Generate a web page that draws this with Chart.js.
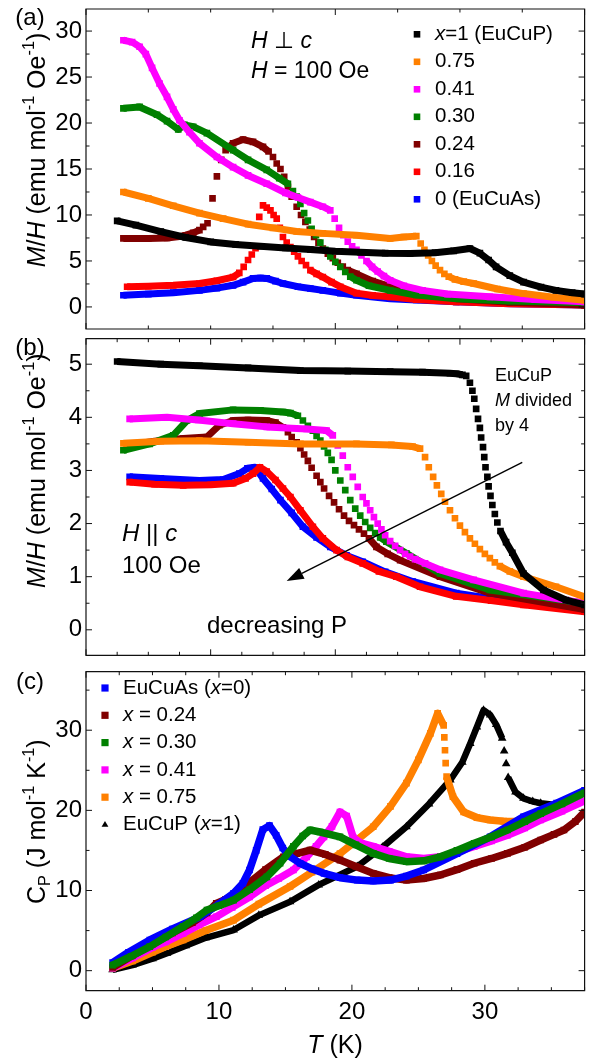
<!DOCTYPE html>
<html lang="en">
<head>
<meta charset="UTF-8">
<title>EuCu(As,P) M/H and Cp</title>
<script src="https://cdn.jsdelivr.net/npm/chart.js@4.4.1/dist/chart.umd.min.js"></script>
<style>
  body { margin: 0; background: #fff; }
  #wrap { position: relative; width: 590px; height: 1062px; }
  #wrap canvas { position: absolute; left: 0; }
</style>
</head>
<body>
<div id="wrap">
  <canvas id="chartA" width="590" height="334" style="top:0px"></canvas>
  <canvas id="chartB" width="590" height="326" style="top:334px"></canvas>
  <canvas id="chartC" width="590" height="402" style="top:660px"></canvas>
</div>
<script>
// ---------- panel (a): M/H, H perp c ----------
var a_T_x100 = [2.5,4,6,8,10,12,14,16,18,20,22,24,26,28,29.5,30.8,31.6,32.3,32.9,34,35.1,36.5,37.7,39,40];
var a_M_x100 = [9.36,8.9,8.2,7.55,7.07,6.8,6.6,6.42,6.25,6.05,5.95,5.85,5.82,5.9,6.1,6.35,5.85,5.1,4.35,3.4,2.7,2.15,1.8,1.55,1.4];
var a_T_x075 = [3.0,5,7,9.1,11,13,15,16.9,19,21.7,24.4,25.5,26.5,26.85,27.15,27.45,27.75,28.05,28.4,28.75,29.1,29.6,30.3,31.1,33,35.1,37.5,40];
var a_M_x075 = [12.5,11.8,11.0,10.2,9.6,9.0,8.6,8.2,8.0,7.8,7.45,7.6,7.7,6.9,6.2,5.6,5.0,4.5,4.0,3.6,3.3,3.0,2.75,2.55,1.95,1.45,1.05,0.73];
var a_T_x041 = [3.0,3.7,4.3,4.8,5.3,5.9,6.5,7.0,7.5,8.3,9.1,10.5,11.8,13,14.5,16,17,18,19.0,19.6,19.95,20.3,20.65,21.0,21.35,21.7,22.1,22.5,22.95,23.4,23.9,24.4,25.5,27.0,29,32.4,36,40];
var a_M_x041 = [29.0,28.8,28.3,27.5,26.0,24.3,22.85,21.5,20.3,19.0,17.8,16.3,15.2,14.3,13.4,12.4,11.9,11.4,10.9,10.5,9.6,8.6,7.8,7.1,6.6,6.2,5.6,5.0,4.35,3.85,3.35,2.9,2.3,1.8,1.4,1.1,0.8,0.55];
var a_T_x030 = [3.0,4.3,5.7,6.5,7.4,7.9,8.6,9.7,11.8,13.0,14.5,15.5,16.2,16.6,16.9,17.2,17.5,17.8,18.1,18.45,18.8,19.2,19.6,20.0,20.4,20.8,21.2,21.7,22.7,24.4,26.5,29.7,34,40];
var a_M_x030 = [21.6,21.75,20.9,20.2,19.3,19.8,19.6,18.9,17.05,16.0,14.9,14.0,13.4,12.6,12.0,11.2,10.2,9.4,8.5,7.8,7.0,6.2,5.5,4.9,4.35,3.8,3.3,2.9,2.3,1.8,1.3,0.9,0.65,0.45];
var a_T_x024 = [3.0,5,6.5,7.5,8.0,8.6,9.1,9.4,9.75,10.15,10.5,10.85,11.2,11.8,12.6,13.4,14.2,14.65,15.0,15.3,15.6,15.9,16.2,16.5,16.9,17.25,17.6,17.95,18.3,18.65,19.0,19.4,19.8,20.2,20.6,21.0,21.7,23,24.4,26.5,29.7,34,40];
var a_M_x024 = [7.45,7.45,7.5,7.65,7.8,8.05,8.35,8.7,9.1,11.8,14.2,16.0,17.05,17.8,18.2,17.95,17.4,16.9,16.3,15.6,15.0,14.15,13.05,12.0,10.9,10.0,9.25,8.4,7.6,7.0,6.35,5.8,5.3,4.8,4.4,4.0,3.6,2.8,2.2,1.6,0.9,0.5,0.2];
var a_T_x016 = [3.3,5,7,9.1,10.5,11.8,12.3,12.65,13.0,13.3,13.6,13.9,14.2,14.5,14.8,15.05,15.3,15.55,15.8,16.1,16.4,16.7,17.0,17.3,17.65,18.0,18.5,19.0,19.7,20.4,21.7,23,24.4,26.5,29.7,34,40];
var a_M_x016 = [2.2,2.25,2.35,2.55,2.85,3.25,3.7,4.35,5.1,5.7,6.4,9.8,11.05,10.8,10.5,10.0,9.6,8.6,7.6,7.0,6.5,6.0,5.5,5.0,4.55,4.0,3.6,3.25,2.7,2.2,1.5,1.25,1.1,0.8,0.55,0.35,0.2];
var a_T_x000 = [3.0,5,7,9.1,10.5,11.8,12.6,13.4,14.0,14.5,15.2,15.8,17.0,18,19.0,20.4,21.7,24.4,26.5,29.7,34,40];
var a_M_x000 = [1.27,1.4,1.55,1.8,2.05,2.35,2.7,3.1,3.15,3.1,2.8,2.55,2.2,2.0,1.8,1.5,1.27,0.9,0.75,0.55,0.35,0.2];

// ---------- panel (b): M/H, H || c ----------
var b_T_x100 = [2.5,6,9.1,13,17.2,21,24.4,27,29.2,29.7,30.2,30.5,30.8,31.0,31.15,31.3,31.45,31.6,31.7,31.85,31.95,32.05,32.2,32.3,32.45,32.6,32.8,33.0,33.25,33.7,34.2,35.1,36.7,38.5,40];
var b_M_x100 = [5.05,5.0,4.97,4.93,4.88,4.87,4.86,4.85,4.83,4.82,4.8,4.78,4.65,4.5,4.35,4.16,3.97,3.8,3.62,3.44,3.25,3.06,2.88,2.7,2.52,2.35,2.18,2.02,1.86,1.65,1.45,1.06,0.75,0.56,0.47];
var b_T_x075 = [3.0,6,9.1,13,17.2,21.7,24.5,26.2,26.8,27.2,27.5,27.85,28.15,28.5,28.8,29.2,29.6,30.0,30.4,30.8,31.2,31.6,32.0,32.4,32.8,33.2,34,35.1,37.7,40];
var b_M_x075 = [3.51,3.55,3.56,3.53,3.5,3.5,3.48,3.45,3.41,3.25,3.06,2.88,2.72,2.56,2.41,2.25,2.1,1.96,1.84,1.72,1.62,1.52,1.43,1.35,1.27,1.2,1.1,1.0,0.81,0.62];
var b_T_x041 = [3.5,6.5,9,11.8,14.5,17.7,19.3,19.8,20.2,20.6,21.0,21.4,21.8,22.2,22.5,22.8,23.1,23.4,23.7,24.0,24.4,24.8,25.2,25.6,26.0,26.4,27.2,28.4,31.1,35.1,40];
var b_M_x041 = [3.97,4.0,3.95,3.88,3.82,3.78,3.75,3.66,3.47,3.28,3.06,2.88,2.69,2.5,2.38,2.25,2.12,2.0,1.89,1.78,1.67,1.58,1.5,1.43,1.38,1.33,1.25,1.13,0.94,0.69,0.5];
var b_T_x030 = [3.0,5.1,7.0,8.1,9.1,11.8,14,15.8,16.4,17.0,17.4,17.8,18.2,18.5,18.8,19.1,19.4,19.7,20.0,20.4,20.8,21.2,21.6,22.0,22.4,22.8,23.2,23.6,24.1,25.7,28.4,32.4,40];
var b_M_x030 = [3.38,3.5,3.66,3.94,4.07,4.14,4.13,4.1,4.08,4.03,3.94,3.84,3.75,3.65,3.56,3.45,3.33,3.2,3.0,2.81,2.63,2.44,2.28,2.15,2.03,1.92,1.82,1.74,1.66,1.44,1.06,0.75,0.5];
var b_T_x024 = [3.3,5.5,7.8,9.7,10.7,11.8,13,14.5,15.2,15.8,16.2,16.5,16.9,17.2,17.5,17.8,18.1,18.5,18.8,19.1,19.5,19.9,20.3,20.7,21.1,21.5,21.9,22.3,22.7,23.3,24.2,25.2,28.4,32.4,40];
var b_M_x024 = [3.47,3.55,3.6,3.63,3.85,3.94,3.95,3.94,3.9,3.81,3.72,3.63,3.53,3.42,3.3,3.18,3.05,2.9,2.78,2.66,2.52,2.4,2.27,2.15,2.05,1.97,1.89,1.81,1.72,1.56,1.43,1.31,1.0,0.69,0.38];
var b_T_x016 = [3.5,5.5,7.8,10,11.8,12.8,13.4,13.95,14.5,15.2,15.8,16.4,17.2,18.2,19.0,20.1,21.0,22.2,23.5,24.9,26.8,29.7,32.5,35.1,40];
var b_M_x016 = [2.78,2.74,2.72,2.73,2.76,2.85,2.94,3.06,2.98,2.82,2.66,2.5,2.25,1.94,1.72,1.5,1.37,1.25,1.1,1.0,0.81,0.63,0.55,0.47,0.34];
var b_T_x000 = [3.5,6,9.1,11,12.3,12.95,13.55,14.2,14.9,15.6,16.5,17.4,18.5,19.6,20.9,22.2,24,26.2,29.7,35,40];
var b_M_x000 = [2.88,2.85,2.81,2.83,2.94,3.04,3.06,2.85,2.65,2.44,2.2,1.94,1.74,1.56,1.4,1.28,1.09,0.91,0.69,0.5,0.41];

// ---------- panel (c): heat capacity ----------
var c_T_x000 = [2.0,3.2,4.8,6.5,8.6,10,11.1,11.8,12.3,12.8,13.3,13.8,14.3,14.8,15.3,16.1,17.0,17.9,19.1,20.4,21.6,22.9,24.1,25.4,27.9,30.4,32.9,35.4,37.5];
var c_C_x000 = [1.0,2.3,3.83,5.2,6.73,8.3,9.65,10.9,12.56,15.0,17.6,18.1,16.9,15.3,14.3,13.4,12.7,12.14,11.6,11.3,11.2,11.3,11.8,12.56,14.6,16.7,19.2,20.9,22.5];
var c_T_x024 = [2.0,3.5,5,6.5,8,9.1,9.8,10.5,11.3,12.3,13.5,14.85,15.85,16.85,18,19.1,20.3,21.6,22.8,24.1,25.4,26.65,27.9,29.2,30.5,31.7,33,34.2,35.2,35.95,36.8,37.5];
var c_C_x024 = [0.4,1.9,3.3,4.7,6.0,7.2,8.4,8.9,9.7,11.0,12.6,14.2,14.6,15.05,14.5,13.8,13.0,12.14,11.6,11.3,11.5,11.93,12.6,13.4,14.0,14.64,15.4,16.3,17.0,17.55,18.6,19.8];
var c_T_x030 = [2.0,3.4,4.8,6,7.3,8.3,9.1,10,11.1,12.3,13.6,14.6,15.6,16.3,16.85,17.6,19.1,20.3,21.6,22.8,24.1,25.4,26.65,27.9,29.2,30.5,31.7,33,34.2,35.8,37.5];
var c_C_x030 = [0.7,1.8,3.0,4.2,5.5,6.6,7.57,8.1,8.8,10.1,11.7,13.4,15.5,16.8,17.55,17.3,16.7,15.7,14.64,14.0,13.6,13.7,14.2,15.0,15.9,16.7,17.55,18.6,19.6,20.8,22.2];
var c_T_x041 = [2.0,3.5,5,6,7.3,8.5,9.8,11,12.3,13.5,14.5,15.6,16.6,17.3,17.9,18.5,19.1,19.6,20.1,20.7,21.6,22.8,24.1,25.4,26.65,27.9,29.2,30.5,31.7,33,34.2,35.8,37.5];
var c_C_x041 = [0.3,1.6,2.9,3.6,4.66,5.7,6.73,7.9,9.2,10.6,11.5,12.56,14.2,15.5,16.7,18.0,19.8,19.3,16.6,15.9,15.5,14.9,14.2,14.0,14.2,14.8,15.5,16.2,16.9,17.8,18.8,19.9,21.2];
var c_T_x075 = [2.0,3.5,5,6,7.3,9,11.1,13,15.35,17,19.1,20.3,21.6,22.9,24.1,25.0,25.9,26.45,26.9,26.95,27.0,27.05,27.12,27.6,28.4,29.4,30.4,31.4,32.4,33.3,34.2,35.95,37.5];
var c_C_x075 = [0.3,1.2,2.3,3.0,3.83,5.0,6.3,8.3,10.5,12.3,14.6,16.2,17.95,20.5,23.4,26.3,29.6,32.1,30.6,29.1,27.5,25.9,24.2,21.7,19.8,19.1,18.8,18.65,18.6,18.8,19.2,20.9,22.4];
var c_T_x100 = [2.0,3.5,5,6.1,7.5,9,11.1,13,15.35,17.5,20.4,22.3,24.1,25.8,27.4,28.3,28.9,29.4,29.9,30.4,30.85,31.3,31.45,31.6,31.75,32.3,32.9,33.6,34.2,35.45,36.3];
var c_C_x100 = [0.1,0.7,1.5,2.17,3.1,4.1,5.07,6.9,8.6,10.7,13.0,15.4,17.95,20.8,23.8,26.0,28.35,30.4,32.5,31.9,30.7,29.0,27.4,25.8,24.1,22.3,21.5,21.1,20.9,20.65,20.8];

// tick labels
var xTicksC = [0, 10, 20, 30];
var yTicksA = [0, 5, 10, 15, 20, 25, 30];
var yTicksB = [0, 1, 2, 3, 4, 5];
var yTicksC = [0, 10, 20, 30];

// legend texts (_italic_, ^sup^, ~sub~)
var legendA = ['_x_=1 (EuCuP)', '0.75', '0.41', '0.30', '0.24', '0.16', '0 (EuCuAs)'];
var legendC = ['EuCuAs (_x_=0)', '_x_ = 0.24', '_x_ = 0.30', '_x_ = 0.41', '_x_ = 0.75', 'EuCuP (_x_=1)'];

var BLACK = '#000000', ORANGE = '#ff8000', MAGENTA = '#ff00ff', GREEN = '#008000',
    DARKRED = '#800000', RED = '#ff0000', BLUE = '#0000ff';
var FONT = '"Liberation Sans", Arial, sans-serif';

function richParts(str) {
  var parts = [], mode = 'n', buf = '';
  for (var ch of str) {
    var m = ch === '_' ? 'i' : ch === '^' ? 'sup' : ch === '~' ? 'sub' : null;
    if (m) { if (buf) parts.push([buf, mode]); buf = ''; mode = (mode === m) ? 'n' : m; }
    else buf += ch;
  }
  if (buf) parts.push([buf, mode]);
  return parts;
}
function fontFor(mode, size) {
  var s = (mode === 'sup' || mode === 'sub') ? size * 0.65 : size;
  return (mode === 'i' ? 'italic ' : '') + s + 'px ' + FONT;
}
function drawRich(ctx, str, x, y, size, align) {
  var parts = richParts(str), w = 0;
  parts.forEach(function (p) { ctx.font = fontFor(p[1], size); w += ctx.measureText(p[0]).width; });
  var cx = align === 'center' ? x - w / 2 : x;
  ctx.textAlign = 'left';
  ctx.textBaseline = 'middle';
  parts.forEach(function (p) {
    ctx.font = fontFor(p[1], size);
    var dy = p[1] === 'sup' ? -size * 0.33 : p[1] === 'sub' ? size * 0.3 : 0;
    ctx.fillText(p[0], cx, y + dy);
    cx += ctx.measureText(p[0]).width;
  });
}

function marker(ctx, style, x, y, r, color) {
  ctx.fillStyle = color;
  ctx.beginPath();
  if (style === 'triangle') {
    ctx.moveTo(x, y - r); ctx.lineTo(x + r * 0.95, y + r * 0.6); ctx.lineTo(x - r * 0.95, y + r * 0.6);
  } else {
    ctx.rect(x - r, y - r, 2 * r, 2 * r);
  }
  ctx.fill();
}

// frame, inward ticks, titles, legend and notes
var decor = {
  id: 'decor',
  afterDraw: function (chart, args, o) {
    var ctx = chart.ctx, a = chart.chartArea, xs = chart.scales.x, ys = chart.scales.y;
    ctx.save();
    ctx.strokeStyle = '#111';
    ctx.lineWidth = 1.2;
    ctx.beginPath();
    ctx.rect(a.left, a.top, a.right - a.left, a.bottom - a.top);
    ctx.stroke();
    ctx.lineWidth = 1;
    ctx.beginPath();
    function isMajor(v, step) { return Math.abs(v / step - Math.round(v / step)) < 1e-6; }
    var i, v, p, len;
    for (i = Math.ceil(xs.min / o.xMinor); i * o.xMinor <= xs.max + 1e-9; i++) {
      v = i * o.xMinor; p = xs.getPixelForValue(v); len = isMajor(v, o.xMajor) ? 6 : 3.5;
      ctx.moveTo(p, a.bottom); ctx.lineTo(p, a.bottom - len);
      ctx.moveTo(p, a.top); ctx.lineTo(p, a.top + len);
    }
    for (i = Math.ceil(ys.min / o.yMinor); i * o.yMinor <= ys.max + 1e-9; i++) {
      v = i * o.yMinor; p = ys.getPixelForValue(v); len = isMajor(v, o.yMajor) ? 6 : 3.5;
      ctx.moveTo(a.left, p); ctx.lineTo(a.left + len, p);
      ctx.moveTo(a.right, p); ctx.lineTo(a.right - len, p);
    }
    ctx.stroke();

    ctx.fillStyle = '#000';
    drawRich(ctx, o.panel, a.left - 56, a.top + o.panelDy, 24, 'center');

    ctx.save();
    ctx.translate(a.left - 48, a.top + o.yTitleDy);
    ctx.rotate(-Math.PI / 2);
    ctx.fillStyle = '#000';
    drawRich(ctx, o.yTitle, 0, 0, o.titleSize, 'center');
    ctx.restore();

    if (o.xTitle) {
      ctx.fillStyle = '#000';
      drawRich(ctx, o.xTitle, a.left + o.xTitleDx, a.top + o.xTitleDy, 25, 'center');
    }

    if (o.legend) {
      var L = o.legend;
      L.labels.forEach(function (txt, k) {
        var y = a.top + L.dy + k * L.step;
        marker(ctx, L.styles[k], a.left + L.mx, y, L.r, L.colors[k]);
        ctx.fillStyle = '#000';
        drawRich(ctx, txt, a.left + L.tx, y, L.size, 'left');
      });
    }

    (o.notes || []).forEach(function (n) {
      ctx.fillStyle = '#000';
      drawRich(ctx, n.text, a.left + n.dx, a.top + n.dy, n.size, 'left');
    });

    if (o.arrow) {
      var x0 = xs.getPixelForValue(o.arrow[0]), y0 = ys.getPixelForValue(o.arrow[1]);
      var x1 = xs.getPixelForValue(o.arrow[2]), y1 = ys.getPixelForValue(o.arrow[3]);
      var ang = Math.atan2(y1 - y0, x1 - x0), hl = 17, hw = 6;
      var bx = x1 - hl * Math.cos(ang), by = y1 - hl * Math.sin(ang);
      ctx.strokeStyle = '#000';
      ctx.lineWidth = 1.4;
      ctx.beginPath(); ctx.moveTo(x0, y0); ctx.lineTo(bx, by); ctx.stroke();
      ctx.fillStyle = '#000';
      ctx.beginPath();
      ctx.moveTo(x1, y1);
      ctx.lineTo(bx + hw * Math.sin(ang), by - hw * Math.cos(ang));
      ctx.lineTo(bx - hw * Math.sin(ang), by + hw * Math.cos(ang));
      ctx.closePath(); ctx.fill();
    }
    ctx.restore();
  }
};

function series(T, V, color, style, width) {
  return {
    data: T.map(function (t, i) { return { x: t, y: V[i] }; }),
    showLine: true,
    borderColor: color,
    backgroundColor: color,
    borderWidth: width,
    borderJoinStyle: 'round',
    pointStyle: style || 'rect',
    pointRadius: style === 'triangle' ? 5 : 4.7,
    pointBackgroundColor: color,
    pointBorderWidth: 0,
    // closely spaced (individually visible) symbols are not joined
    segment: {
      borderColor: function (c) { return (c.p1.parsed.x - c.p0.parsed.x) < 0.42 ? 'rgba(0,0,0,0)' : undefined; }
    }
  };
}

function yAxis(min, max, ticks) {
  return {
    type: 'linear', min: min, max: max,
    afterBuildTicks: function (s) { s.ticks = ticks.map(function (v) { return { value: v }; }); },
    afterFit: function (s) { s.width = 86; s.paddingTop = 0; s.paddingBottom = 0; },
    grid: { display: false, drawTicks: false },
    border: { display: false },
    ticks: { color: '#000', padding: 4, font: { family: FONT, size: 24 } }
  };
}

function hiddenX() {
  return {
    type: 'linear', min: 0, max: 40,
    afterFit: function (s) { s.height = 0; s.paddingLeft = 0; s.paddingRight = 0; },
    grid: { display: false, drawTicks: false },
    border: { display: false },
    ticks: { display: false }
  };
}

function makeChart(id, datasets, xScale, yScale, padding, decorOpts) {
  return new Chart(document.getElementById(id), {
    type: 'scatter',
    data: { datasets: datasets },
    options: {
      responsive: false,
      animation: false,
      devicePixelRatio: 1,
      events: [],
      layout: { padding: padding },
      scales: { x: xScale, y: yScale },
      plugins: { legend: { display: false }, tooltip: { enabled: false }, decor: decorOpts }
    },
    plugins: [decor]
  });
}

makeChart('chartA', [
  series(a_T_x100, a_M_x100, BLACK, 'rect', 7),
  series(a_T_x075, a_M_x075, ORANGE, 'rect', 7),
  series(a_T_x041, a_M_x041, MAGENTA, 'rect', 7),
  series(a_T_x030, a_M_x030, GREEN, 'rect', 7),
  series(a_T_x024, a_M_x024, DARKRED, 'rect', 7),
  series(a_T_x016, a_M_x016, RED, 'rect', 7),
  series(a_T_x000, a_M_x000, BLUE, 'rect', 7)
], hiddenX(), yAxis(-2.4, 32.4, yTicksA), { top: 9, right: 5.4, bottom: 5, left: 0 }, {
  xMinor: 5, xMajor: 20, yMinor: 2.5, yMajor: 5,
  panel: '(a)', panelDy: 9,
  yTitle: '_M_/_H_ (emu mol^-1^ Oe^-1^)', yTitleDy: 141, titleSize: 25,
  legend: { labels: legendA, colors: [BLACK, ORANGE, MAGENTA, GREEN, DARKRED, RED, BLUE],
            styles: ['rect', 'rect', 'rect', 'rect', 'rect', 'rect', 'rect'],
            mx: 331, tx: 349, dy: 25.3, step: 27.5, r: 3.3, size: 20.5 },
  notes: [
    { text: '_H_ \u22A5 _c_', dx: 165, dy: 33, size: 23 },
    { text: '_H_ = 100 Oe', dx: 165, dy: 63, size: 23 }
  ]
});

makeChart('chartB', [
  series(b_T_x100, b_M_x100, BLACK, 'rect', 7),
  series(b_T_x075, b_M_x075, ORANGE, 'rect', 7),
  series(b_T_x041, b_M_x041, MAGENTA, 'rect', 7),
  series(b_T_x030, b_M_x030, GREEN, 'rect', 7),
  series(b_T_x024, b_M_x024, DARKRED, 'rect', 7),
  series(b_T_x016, b_M_x016, RED, 'rect', 7),
  series(b_T_x000, b_M_x000, BLUE, 'rect', 7)
], hiddenX(), yAxis(-0.48, 5.48, yTicksB), { top: 3.7, right: 5.4, bottom: 4, left: 0 }, {
  xMinor: 2.5, xMajor: 10, yMinor: 0.5, yMajor: 1,
  panel: '(b)', panelDy: 9.3,
  yTitle: '_M_/_H_ (emu mol^-1^ Oe^-1^)', yTitleDy: 132, titleSize: 25,
  notes: [
    { text: 'EuCuP', dx: 409, dy: 37.3, size: 18 },
    { text: '_M_ divided', dx: 409, dy: 62.3, size: 18 },
    { text: 'by 4', dx: 409, dy: 87.3, size: 18 },
    { text: '_H_ || _c_', dx: 36, dy: 195.3, size: 24 },
    { text: '100 Oe', dx: 36, dy: 227.3, size: 24 },
    { text: 'decreasing P', dx: 121, dy: 287.3, size: 24 }
  ],
  arrow: [35.0, 3.15, 16.1, 0.92]
});

makeChart('chartC', [
  series(c_T_x030, c_C_x030, GREEN, 'rect', 7.5),
  series(c_T_x000, c_C_x000, BLUE, 'rect', 7.5),
  series(c_T_x024, c_C_x024, DARKRED, 'rect', 7.5),
  series(c_T_x041, c_C_x041, MAGENTA, 'rect', 7.5),
  series(c_T_x075, c_C_x075, ORANGE, 'rect', 7.5),
  series(c_T_x100, c_C_x100, BLACK, 'triangle', 6.5)
], {
  type: 'linear', min: 0, max: 37.5,
  afterBuildTicks: function (s) { s.ticks = xTicksC.map(function (v) { return { value: v }; }); },
  afterFit: function (s) { s.height = 71.3; s.paddingLeft = 0; s.paddingRight = 0; },
  grid: { display: false, drawTicks: false },
  border: { display: false },
  ticks: { color: '#000', padding: 7, maxRotation: 0, font: { family: FONT, size: 24 } }
}, yAxis(-2.5, 37.3, yTicksC), { top: 11.7, right: 5.4, bottom: 0, left: 0 }, {
  xMinor: 2.5, xMajor: 10, yMinor: 5, yMajor: 10,
  panel: '(c)', panelDy: 10.3,
  yTitle: 'C~P~ (J mol^-1^ K^-1^)', yTitleDy: 150, titleSize: 25,
  xTitle: '_T_ (K)', xTitleDx: 249, xTitleDy: 374.3,
  legend: { labels: legendC, colors: [BLUE, DARKRED, GREEN, MAGENTA, ORANGE, BLACK],
            styles: ['rect', 'rect', 'rect', 'rect', 'rect', 'triangle'],
            mx: 19, tx: 37, dy: 16.3, step: 27.3, r: 3.6, size: 20.5 }
});
</script>
</body>
</html>
